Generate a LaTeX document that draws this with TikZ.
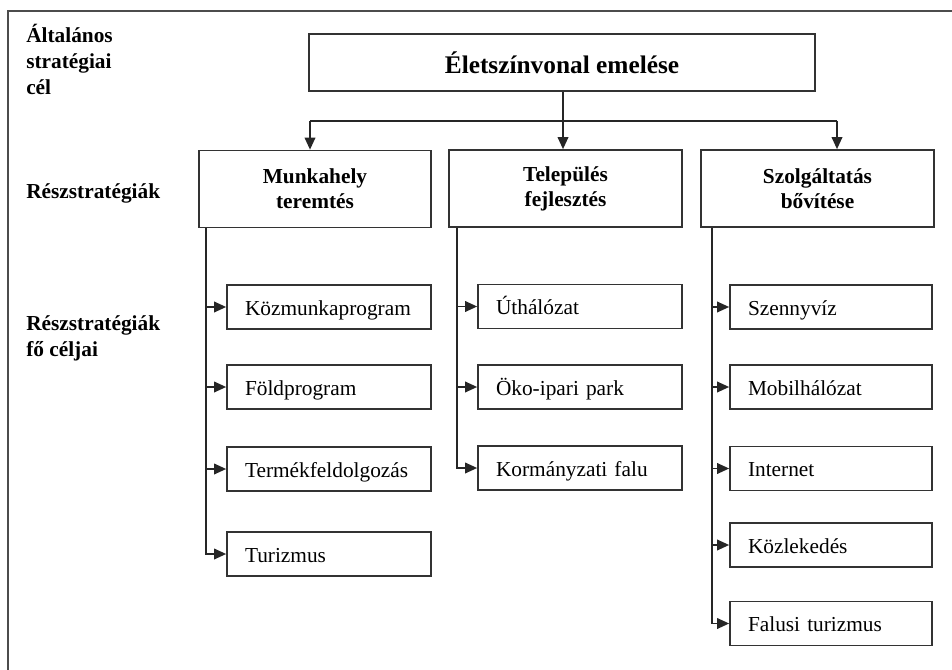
\documentclass[tikz,border=0pt]{standalone}
\usepackage{fontspec}
\setmainfont{Liberation Serif}
\usetikzlibrary{arrows.meta,calc}
\begin{document}
\begin{tikzpicture}[x=0.75pt,y=-0.75pt,
  ln/.style={draw=black!85,line width=1.1pt},
  arr/.style={ln,-{Triangle[length=9pt,width=8pt]}},
  frame/.style={draw=black!70,line width=1.3pt},
  boxbase/.style={draw=black!80,line width=1.3pt,inner sep=0pt},
  topbox/.style={boxbase,minimum width=506*0.75pt,minimum height=57*0.75pt,
    font=\fontsize{19}{23}\selectfont\bfseries},
  headbox/.style={boxbase,minimum width=233*0.75pt,minimum height=77*0.75pt,
    align=center,font=\fontsize{16}{18.75}\selectfont\bfseries},
  leaf/.style={boxbase,text width=(#1-36)*0.75pt,inner xsep=13.5pt,minimum height=44*0.75pt,
    text height=12.5pt,text depth=0pt,
    align=left,font=\fontsize{16}{19}\selectfont},
  lbl/.style={anchor=north west,inner sep=0pt,align=left,
    font=\fontsize{16}{19.5}\selectfont\bfseries}
]
\useasboundingbox (0,0) rectangle (952,670);
\draw[frame] (8,11) rectangle (960,680);

% left labels
\node[lbl] (l1) at (26,24) {Általános\\stratégiai\\cél};
\node[lbl] (l2) at (26,183) {Részstratégiák};
\node[lbl] (l3) at (26,315) {Részstratégiák\\fő céljai};

% top
\node[topbox] (top) at (562,62.5) {Életszínvonal emelése};

% headers
\node[headbox,minimum width=232*0.75pt] (mh) at (315,189) {Munkahely\\teremtés};
\node[headbox] (tp) at (565.5,188.5) {Település\\fejlesztés};
\node[headbox] (sz) at (817.5,188.5) {Szolgáltatás\\bővítése};

% leaves col 1
\node[leaf=204] (a1) at (329,307) {Közmunkaprogram};
\node[leaf=204] (a2) at (329,387) {Földprogram};
\node[leaf=204] (a3) at (329,469) {Termékfeldolgozás};
\node[leaf=204] (a4) at (329,554) {Turizmus};
% col 2
\node[leaf=204] (b1) at (580,306.5) {Úthálózat};
\node[leaf=204] (b2) at (580,387) {Öko-ipari park};
\node[leaf=204] (b3) at (580,468) {Kormányzati falu};
% col 3
\node[leaf=202] (c1) at (831,307) {Szennyvíz};
\node[leaf=202] (c2) at (831,387) {Mobilhálózat};
\node[leaf=202] (c3) at (831,468.5) {Internet};
\node[leaf=202] (c4) at (831,545) {Közlekedés};
\node[leaf=202] (c5) at (831,623.5) {Falusi turizmus};

% top connectors
\coordinate (j) at (563,121);
\coordinate (xa) at (310,121);
\coordinate (xc) at (837,121);
\draw[ln] (top.south -| j) -- (j);
\draw[ln] (xa) -- (xc);
\draw[arr] (j) -- (tp.north -| j);
\draw[arr] (xa) -- (mh.north -| xa);
\draw[arr] (xc) -- (sz.north -| xc);

% branch lines
\coordinate (v1) at (206,0);
\coordinate (v2) at (457,0);
\coordinate (v3) at (712,0);
\draw[arr] (mh.south -| v1) |- (a4.west);
\foreach \n in {a1,a2,a3} \draw[arr] (\n.west -| v1) -- (\n.west);
\draw[arr] (tp.south -| v2) |- (b3.west);
\foreach \n in {b1,b2} \draw[arr] (\n.west -| v2) -- (\n.west);
\draw[arr] (sz.south -| v3) |- (c5.west);
\foreach \n in {c1,c2,c3,c4} \draw[arr] (\n.west -| v3) -- (\n.west);
\end{tikzpicture}
\end{document}
